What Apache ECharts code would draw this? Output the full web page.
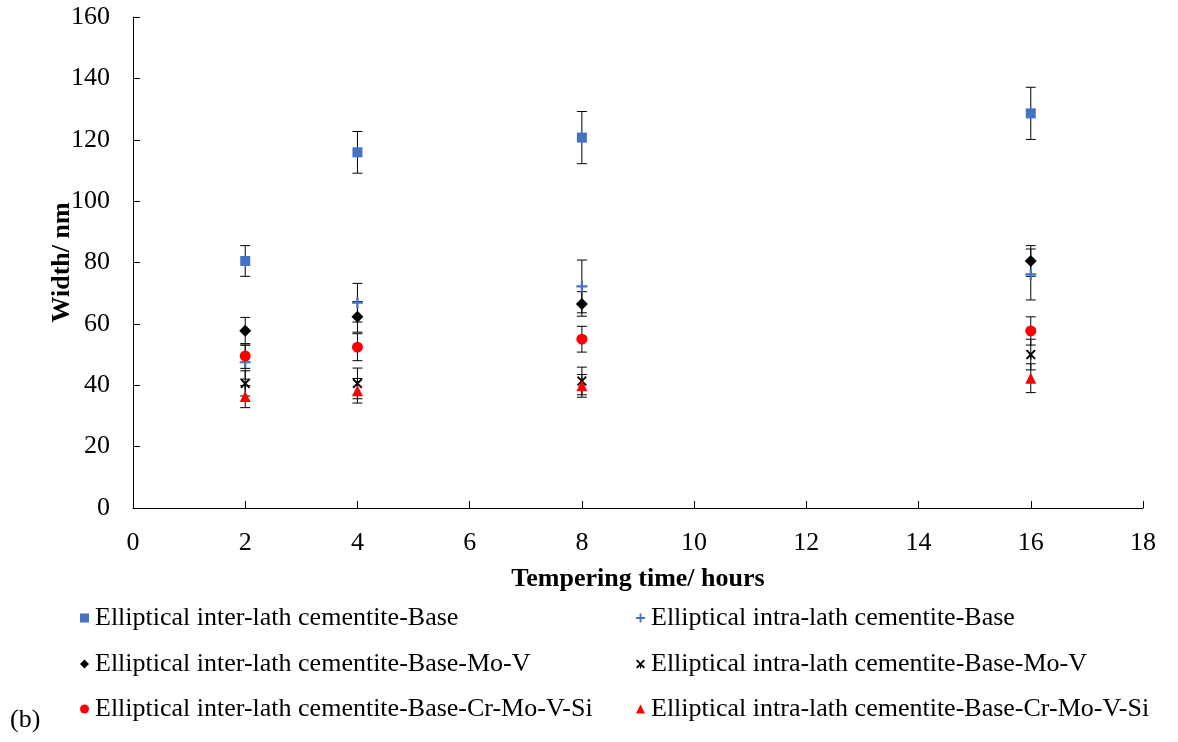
<!DOCTYPE html>
<html><head><meta charset="utf-8">
<script src="https://cdn.jsdelivr.net/npm/echarts@6/dist/echarts.min.js"></script>
<style>html,body{margin:0;padding:0;background:#fff}#c{width:1178px;height:742px}</style>
</head><body><div id="c"></div>
<script>
const hours = [2, 4, 8, 16];
const xTicks = [0, 2, 4, 6, 8, 10, 12, 14, 16, 18];
const seriesNames = [
  'Elliptical inter-lath cementite-Base',
  'Elliptical intra-lath cementite-Base',
  'Elliptical inter-lath cementite-Base-Mo-V',
  'Elliptical intra-lath cementite-Base-Mo-V',
  'Elliptical inter-lath cementite-Base-Cr-Mo-V-Si',
  'Elliptical intra-lath cementite-Base-Cr-Mo-V-Si'
];
const interBase = [80.5, 115.9, 120.7, 128.6];
const interBaseErr = [5.0, 6.8, 8.5, 8.5];
const intraBase = [47.5, 66.9, 72.2, 76.1];
const intraBaseErr = [5.5, 6.3, 8.6, 8.3];
const interMoV = [57.8, 62.3, 66.5, 80.5];
const interMoVErr = [4.3, 5.0, 4.0, 5.0];
const intraMoV = [40.6, 40.6, 41.4, 50.0];
const intraMoVErr = [4.1, 5.0, 4.5, 5.0];
const interCr = [49.5, 52.4, 55.0, 57.7];
const interCrErr = [4.0, 4.4, 4.2, 4.6];
const intraCr = [36.3, 38.2, 39.8, 42.3];
const intraCrErr = [3.6, 4.0, 3.7, 4.7];

const values = [interBase, intraBase, interMoV, intraMoV, interCr, intraCr];
const errs = [interBaseErr, intraBaseErr, interMoVErr, intraMoVErr, interCrErr, intraCrErr];

const PLUS = 'path://M4,0H6V4H10V6H6V10H4V6H0V4H4Z';
const STAR = 'path://M1.3,0L5,3.5L8.7,0L10,1.3L6.3,5L10,8.7L8.7,10L5.7,7.2V10H4.3V7.2L1.3,10L0,8.7L3.7,5L0,1.3Z';
const styles = [
  {symbol: 'rect', size: 10, color: '#4472C4'},
  {symbol: PLUS, size: 11, color: '#4472C4'},
  {symbol: 'diamond', size: 12, color: '#000000'},
  {symbol: STAR, size: 10, color: '#000000'},
  {symbol: 'circle', size: 11, color: '#FF0000'},
  {symbol: 'triangle', size: 11, color: '#FF0000'}
];

const FONT = '"Liberation Serif", "Times New Roman", serif';
const FS = 26;
const series = [];
values.forEach((vals, i) => {
  series.push({
    type: 'custom',
    name: seriesNames[i] + ' err',
    z: 1,
    silent: true,
    data: hours.map((h, k) => [h, vals[k] - errs[i][k], vals[k] + errs[i][k]]),
    renderItem: function (params, api) {
      const lo = api.coord([api.value(0), api.value(1)]);
      const hi = api.coord([api.value(0), api.value(2)]);
      const w = 5;
      const st = {stroke: '#000', lineWidth: 1};
      return {type: 'group', children: [
        {type: 'line', shape: {x1: lo[0], y1: lo[1], x2: hi[0], y2: hi[1]}, style: st},
        {type: 'line', shape: {x1: lo[0] - w, y1: lo[1], x2: lo[0] + w, y2: lo[1]}, style: st},
        {type: 'line', shape: {x1: hi[0] - w, y1: hi[1], x2: hi[0] + w, y2: hi[1]}, style: st}
      ]};
    }
  });
});
values.forEach((vals, i) => {
  series.push({
    type: 'scatter',
    name: seriesNames[i],
    z: 3,
    symbol: styles[i].symbol,
    symbolSize: styles[i].size,
    itemStyle: {color: styles[i].color, opacity: 1},
    data: hours.map((h, k) => [h, vals[k]])
  });
});

const legendPos = [
  {left: 80, top: 605}, {left: 636, top: 605},
  {left: 80, top: 651}, {left: 636, top: 651},
  {left: 80, top: 696}, {left: 636, top: 696}
];
const legends = seriesNames.map((n, i) => ({
  data: [n],
  left: legendPos[i].left, top: legendPos[i].top,
  padding: 0,
  itemWidth: 9, itemHeight: 9,
  selectedMode: false,
  textStyle: {fontFamily: FONT, fontSize: FS, color: '#000', padding: [0, 0, 0, 1]}
}));

const chart = echarts.init(document.getElementById('c'), null, {renderer: 'canvas'});
chart.setOption({
  animation: false,
  backgroundColor: '#fff',
  grid: {left: 133, right: 35, top: 17, bottom: 234, containLabel: false},
  xAxis: {
    type: 'value', min: 0, max: 18, interval: 2,
    name: 'Tempering time/ hours', nameLocation: 'middle', nameGap: 58,
    nameMoveOverlap: false,
    nameTextStyle: {fontFamily: FONT, fontSize: FS, fontWeight: 'bold', color: '#000'},
    axisLine: {lineStyle: {color: '#000', width: 1}},
    axisTick: {inside: true, length: 7, lineStyle: {color: '#000'}},
    axisLabel: {fontFamily: FONT, fontSize: FS, color: '#000', margin: 22,
      formatter: v => xTicks.includes(v) ? String(v) : ''},
    splitLine: {show: false}
  },
  yAxis: {
    type: 'value', min: 0, max: 160, interval: 20,
    name: 'Width/ nm', nameLocation: 'middle', nameGap: 58, nameRotate: 90,
    nameMoveOverlap: false,
    nameTextStyle: {fontFamily: FONT, fontSize: FS, fontWeight: 'bold', color: '#000'},
    axisLine: {show: true, lineStyle: {color: '#000', width: 1}},
    axisTick: {show: true, inside: true, length: 7, lineStyle: {color: '#000'}},
    axisLabel: {fontFamily: FONT, fontSize: FS, color: '#000', margin: 23},
    splitLine: {show: false}
  },
  legend: legends,
  graphic: [{type: 'text', left: 10, top: 707,
    style: {text: '(b)', font: FS + 'px "Liberation Serif", serif', fill: '#000'}}],
  series: series
});
</script></body></html>
